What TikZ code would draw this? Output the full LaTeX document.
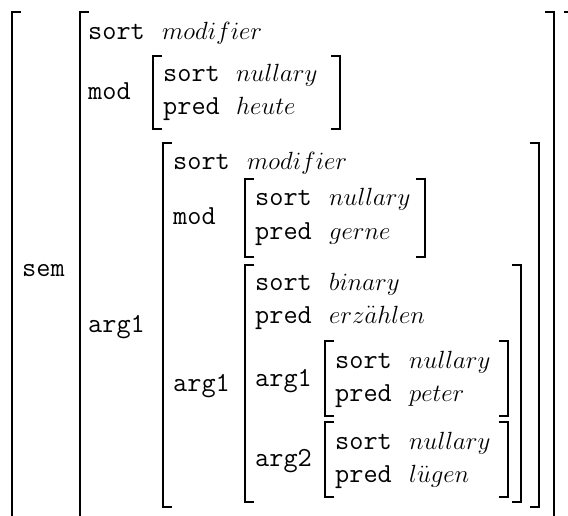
\documentclass[tikz,border=0pt]{standalone}
\usepackage{fontspec}
\setmainfont{Latin Modern Roman}
\setmonofont{Latin Modern Mono}
\begin{document}
\begin{tikzpicture}[x=1pt,y=1pt,
  brk/.style={line width=2.6pt,line cap=butt,line join=miter},
  feat/.style={anchor=base west,inner sep=0pt,font=\fontsize{27.5}{33}\selectfont\ttfamily},
  val/.style={anchor=base west,inner sep=0pt,font=\fontsize{27.5}{33}\selectfont}]
\useasboundingbox (0,0) rectangle (568,-516);
\clip (0,0) rectangle (568,-516);
\newcommand\lbrk[3]{\draw[brk] ({#1+9},-#2) -- (#1,-#2) -- (#1,-#3) -- ({#1+9},-#3);}
\newcommand\rbrk[3]{\draw[brk] ({#1-9},-#2) -- (#1,-#2) -- (#1,-#3) -- ({#1-9},-#3);}
% outer
\lbrk{12}{12}{526}
\rbrk{573}{12}{526}
\node[feat] (sem) at (22,-276) {sem};
% sem value
\lbrk{80}{12}{526}
\rbrk{554}{12}{526}
\node[feat] (s1) at (88,-40) {sort};
\node[val] (v1) at (162,-40) {$modifier$};
\node[feat] (m1) at (88,-100) {mod};
\lbrk{153}{56}{129}
\rbrk{340}{56}{129}
\node[feat] (s2) at (163,-82) {sort};
\node[val] (v2) at (236,-82) {$nullary$};
\node[feat] (p2) at (163,-115) {pred};
\node[val] (w2) at (236,-115) {$heute$};
\node[feat] (a1) at (88,-332) {arg1};
% arg1 value
\lbrk{163}{143}{507}
\rbrk{539}{143}{507}
\node[feat] (s3) at (173,-170) {sort};
\node[val] (v3) at (247,-170) {$modifier$};
\node[feat] (m3) at (173,-225) {mod};
\lbrk{245}{179}{257}
\rbrk{425}{179}{257}
\node[feat] (s4) at (255,-206) {sort};
\node[val] (v4) at (329,-206) {$nullary$};
\node[feat] (p4) at (255,-239) {pred};
\node[val] (w4) at (329,-239) {$gerne$};
\node[feat] (a3) at (173,-391) {arg1};
% erzaehlen
\lbrk{245}{265}{502}
\rbrk{521}{265}{502}
\node[feat] (s5) at (255,-290) {sort};
\node[val] (v5) at (329,-290) {$binary$};
\node[feat] (p5) at (255,-323) {pred};
\node[val] (w5) at (329,-323) {$erz\smash{\ddot{a}}hlen$};
\node[feat] (a5) at (255,-386) {arg1};
\lbrk{325}{341}{416}
\rbrk{508}{341}{416}
\node[feat] (s6) at (335,-368) {sort};
\node[val] (v6) at (409,-368) {$nullary$};
\node[feat] (p6) at (335,-401) {pred};
\node[val] (w6) at (409,-401) {$peter$};
\node[feat] (a6) at (255,-466) {arg2};
\lbrk{325}{422}{497}
\rbrk{508}{422}{497}
\node[feat] (s7) at (335,-449) {sort};
\node[val] (v7) at (409,-449) {$nullary$};
\node[feat] (p7) at (335,-482) {pred};
\node[val] (w7) at (409,-482) {$l\smash{\ddot{u}}gen$};
\end{tikzpicture}
\end{document}
